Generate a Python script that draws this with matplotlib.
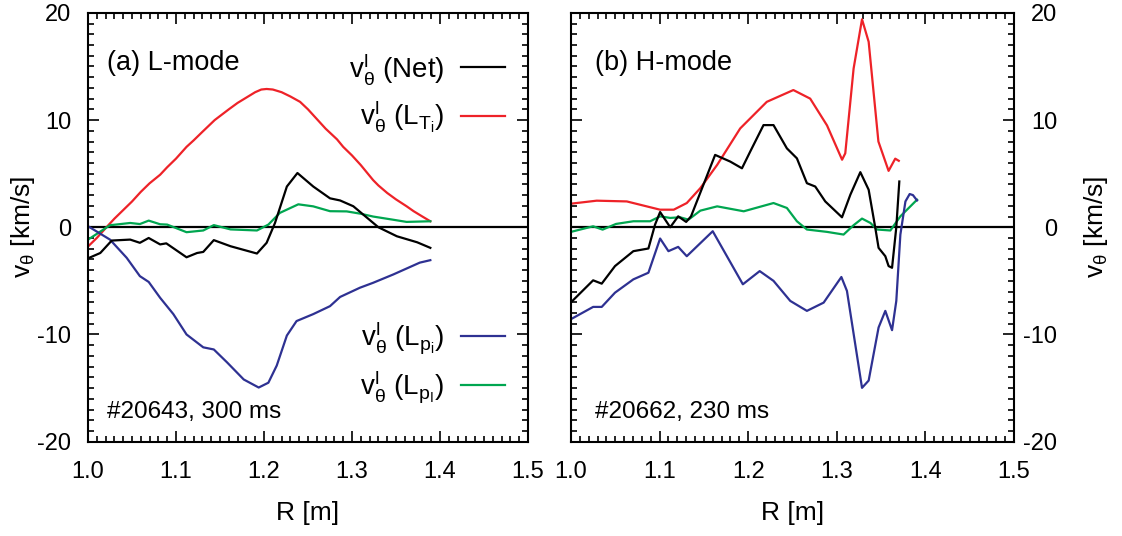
import matplotlib
matplotlib.use('Agg')
import matplotlib.pyplot as plt
from matplotlib.ticker import MultipleLocator, FormatStrFormatter
from matplotlib.lines import Line2D

plt.rcParams['font.family'] = ['Liberation Sans', 'DejaVu Sans']
plt.rcParams['mathtext.fontset'] = 'custom'
plt.rcParams['mathtext.rm'] = 'Liberation Sans'
plt.rcParams['mathtext.it'] = 'Liberation Sans'
plt.rcParams['mathtext.bf'] = 'Liberation Sans:bold'
plt.rcParams['axes.unicode_minus'] = False

RED = '#ee2228'
BLUE = '#2e3192'
GREEN = '#00a650'
BLACK = 'black'

# ---- (a) L-mode, #20643 ----
a_net_R = [1.000, 1.014, 1.027, 1.048, 1.059, 1.069, 1.082, 1.089, 1.112, 1.124, 1.131,
           1.143, 1.162, 1.192, 1.203, 1.2125, 1.226, 1.238, 1.256, 1.275, 1.2865, 1.3015,
           1.330, 1.351, 1.374, 1.389]
a_net_v = [-2.9, -2.4, -1.24, -1.15, -1.45, -1.0, -1.6, -1.5, -2.8, -2.4, -2.3,
           -1.2, -1.77, -2.45, -1.45, 0.4, 3.8, 5.06, 3.8, 2.7, 2.5, 1.96,
           0.0, -0.84, -1.4, -1.92]

a_lti_R = [1.000, 1.010, 1.021, 1.03, 1.04, 1.05, 1.06, 1.07, 1.082, 1.09, 1.10, 1.112,
           1.12, 1.13, 1.144, 1.152, 1.16, 1.17, 1.18, 1.19, 1.197, 1.203, 1.21, 1.22,
           1.23, 1.241, 1.25, 1.26, 1.27, 1.283, 1.29, 1.30, 1.31, 1.324, 1.33, 1.34,
           1.35, 1.362, 1.37, 1.38, 1.389]
a_lti_v = [-1.8, -1.0, 0.0, 0.8, 1.6, 2.4, 3.3, 4.1, 4.9, 5.6, 6.4, 7.5,
           8.1, 8.9, 10.0, 10.5, 11.0, 11.6, 12.1, 12.6, 12.85, 12.9, 12.85, 12.6,
           12.2, 11.7, 11.0, 10.1, 9.2, 8.2, 7.5, 6.7, 5.8, 4.4, 3.9, 3.2,
           2.6, 1.96, 1.5, 1.0, 0.56]

a_lpi_R = [1.000, 1.025, 1.044, 1.059, 1.069, 1.082, 1.097, 1.112, 1.131, 1.143, 1.158,
           1.177, 1.194, 1.205, 1.2145, 1.226, 1.237, 1.256, 1.275, 1.2865, 1.309, 1.324,
           1.347, 1.377, 1.389]
a_lpi_v = [0.1, -1.15, -2.85, -4.56, -5.1, -6.58, -8.1, -10.0, -11.2, -11.4, -12.6,
           -14.2, -14.95, -14.5, -12.9, -10.1, -8.75, -8.1, -7.36, -6.5, -5.64, -5.18,
           -4.4, -3.3, -3.07]

a_lpl_R = [1.000, 1.025, 1.048, 1.059, 1.069, 1.082, 1.090, 1.112, 1.131, 1.143, 1.162,
           1.192, 1.205, 1.218, 1.239, 1.256, 1.275, 1.294, 1.310, 1.324, 1.347, 1.362, 1.389]
a_lpl_v = [-1.16, 0.19, 0.4, 0.3, 0.62, 0.28, 0.25, -0.46, -0.3, 0.2, -0.2,
           -0.3, 0.25, 1.34, 2.14, 1.95, 1.5, 1.48, 1.26, 1.0, 0.7, 0.5, 0.56]

# ---- (b) H-mode, #20662 ----
b_net_R = [1.000, 1.025, 1.0347, 1.0497, 1.0704, 1.0874, 1.0949, 1.1006, 1.112, 1.121,
           1.130, 1.1355, 1.1627, 1.1797, 1.193, 1.2023, 1.2173, 1.2286, 1.2437, 1.255,
           1.2663, 1.2757, 1.287, 1.3059, 1.3153, 1.3266, 1.336, 1.3435, 1.3472, 1.3548,
           1.3585, 1.3624, 1.3672, 1.3706]
b_net_v = [-7.0, -4.95, -5.26, -3.62, -2.23, -1.98, 0.25, 1.42, 0.0, 1.02,
           0.5, 1.02, 6.75, 6.13, 5.5, 7.06, 9.53, 9.53, 7.36, 6.43,
           4.11, 3.8, 2.41, 0.93, 3.03, 5.14, 3.5, -0.06, -1.92, -2.7,
           -3.62, -3.78, 0.0, 4.27]

b_lti_R = [1.000, 1.029, 1.063, 1.1005, 1.116, 1.1307, 1.146, 1.165, 1.191, 1.221, 1.251,
           1.270, 1.289, 1.306, 1.3096, 1.319, 1.3285, 1.336, 1.347, 1.3585, 1.366, 1.370]
b_lti_v = [2.2, 2.48, 2.41, 1.64, 1.64, 2.26, 3.65, 5.82, 9.22, 11.7, 12.8,
           12.0, 9.5, 6.3, 6.9, 14.8, 19.4, 17.3, 8.0, 5.26, 6.4, 6.2]

b_lpi_R = [1.000, 1.025, 1.0347, 1.0497, 1.0704, 1.0874, 1.1006, 1.110, 1.121, 1.1307,
           1.160, 1.194, 1.213, 1.2286, 1.2475, 1.2663, 1.2852, 1.3052, 1.3115, 1.3285,
           1.336, 1.3472, 1.3548, 1.3624, 1.3672, 1.3718, 1.3775, 1.3823, 1.386, 1.3906]
b_lpi_v = [-8.57, -7.43, -7.43, -6.1, -4.86, -4.24, -1.05, -2.23, -1.83, -2.7,
           -0.37, -5.32, -4.09, -5.0, -6.87, -7.8, -7.03, -4.64, -5.94, -14.98,
           -14.3, -9.35, -7.8, -9.6, -6.87, -0.68, 2.41, 3.1, 3.0, 2.5]

b_lpl_R = [1.000, 1.025, 1.0357, 1.0508, 1.0704, 1.0893, 1.1006, 1.112, 1.1232, 1.1326,
           1.146, 1.165, 1.195, 1.2286, 1.2437, 1.255, 1.2663, 1.2889, 1.3077, 1.319,
           1.3285, 1.338, 1.3454, 1.3605, 1.3718, 1.3906]
b_lpl_v = [-0.43, 0.09, -0.22, 0.31, 0.56, 0.56, 1.02, 0.87, 0.93, 0.71,
           1.55, 1.95, 1.49, 2.26, 1.8, 0.56, -0.21, -0.43, -0.68, 0.19,
           0.81, 0.4, -0.21, -0.3, 1.02, 2.57]

lab_net = r'$\mathregular{v^{l}_{\theta}}$ (Net)'
lab_lti = r'$\mathregular{v^{l}_{\theta}}$ $\mathregular{(L_{T_i})}$'
lab_lpi = r'$\mathregular{v^{l}_{\theta}}$ $\mathregular{(L_{p_i})}$'
lab_lpl = r'$\mathregular{v^{l}_{\theta}}$ $\mathregular{(L_{p_I})}$'

fig = plt.figure(figsize=(11.22, 5.36), dpi=100)
axa = fig.add_axes([0.0784, 0.176, 0.3922, 0.8])
axb = fig.add_axes([0.5089, 0.176, 0.3948, 0.8])

lw = 1.6
for ax, d in [(axa, (a_net_R, a_net_v, a_lti_R, a_lti_v, a_lpi_R, a_lpi_v, a_lpl_R, a_lpl_v)),
              (axb, (b_net_R, b_net_v, b_lti_R, b_lti_v, b_lpi_R, b_lpi_v, b_lpl_R, b_lpl_v))]:
    ax.axhline(0, color='black', lw=1.6, zorder=1)
    ax.plot(d[2], d[3], color=RED, lw=lw)
    ax.plot(d[6], d[7], color=GREEN, lw=lw)
    ax.plot(d[4], d[5], color=BLUE, lw=lw)
    ax.plot(d[0], d[1], color=BLACK, lw=lw)
    ax.set_xlim(1.0, 1.5)
    ax.set_ylim(-20, 20)
    ax.xaxis.set_major_locator(MultipleLocator(0.1))
    ax.xaxis.set_minor_locator(MultipleLocator(0.01))
    ax.yaxis.set_major_locator(MultipleLocator(10))
    ax.yaxis.set_minor_locator(MultipleLocator(1))
    ax.tick_params(which='both', direction='in', top=True, right=True, left=True,
                   labelsize=17, width=1.2)
    ax.tick_params(which='major', length=8)
    ax.tick_params(which='minor', length=4)
    ax.tick_params(axis='x', pad=14)
    ax.xaxis.set_major_formatter(FormatStrFormatter('%.1f'))
    for s in ax.spines.values():
        s.set_linewidth(1.5)
    ax.set_xlabel('R [m]', fontsize=19, labelpad=13)

axa.tick_params(axis='y', pad=12)
axa.set_ylabel(r'$\mathregular{v_{\theta}}$ [km/s]', fontsize=19, labelpad=0)

axb.tick_params(which='both', left=True, right=True, labelleft=False, labelright=True)
axb.tick_params(axis='y', pad=31)
for t in axb.get_yticklabels():
    t.set_horizontalalignment('right')
axb.yaxis.set_label_position('right')
axb.set_ylabel(r'$\mathregular{v_{\theta}}$ [km/s]', fontsize=19, labelpad=18)

axa.text(0.043, 0.867, '(a) L-mode', transform=axa.transAxes, fontsize=19.5, va='baseline')
axa.text(0.043, 0.056, '#20643, 300 ms', transform=axa.transAxes, fontsize=17.5, va='baseline')
axb.text(0.054, 0.867, '(b) H-mode', transform=axb.transAxes, fontsize=19.5, va='baseline')
axb.text(0.054, 0.056, '#20662, 230 ms', transform=axb.transAxes, fontsize=17.5, va='baseline')

h_top = [Line2D([], [], color=BLACK, lw=lw), Line2D([], [], color=RED, lw=lw)]
h_bot = [Line2D([], [], color=BLUE, lw=lw), Line2D([], [], color=GREEN, lw=lw)]
leg_kw = dict(frameon=False, markerfirst=False, fontsize=20, labelspacing=0.45,
              handlelength=1.6, handletextpad=0.6, borderaxespad=0, borderpad=0)
leg1 = axa.legend(h_top, [lab_net, lab_lti], loc='upper right',
                  bbox_to_anchor=(0.948, 0.912), **leg_kw)
axa.add_artist(leg1)
axa.legend(h_bot, [lab_lpi, lab_lpl], loc='lower right',
           bbox_to_anchor=(0.948, 0.085), **leg_kw)

fig.savefig('out.png', dpi=100)
